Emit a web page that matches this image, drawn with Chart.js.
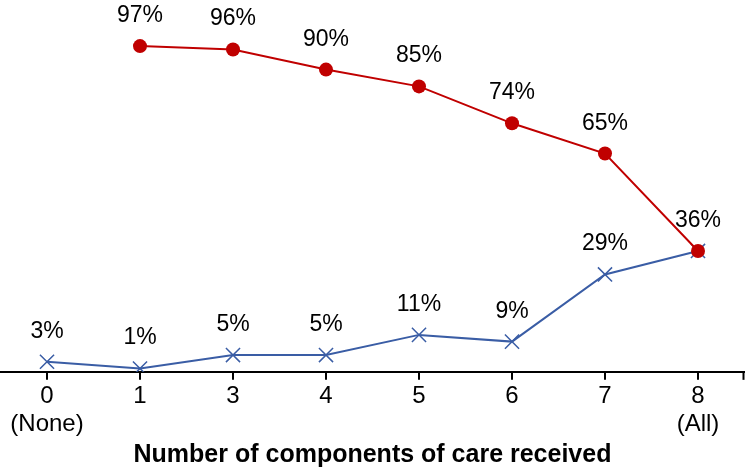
<!DOCTYPE html>
<html>
<head>
<meta charset="utf-8">
<script src="https://cdn.jsdelivr.net/npm/chart.js@4"></script>
<style>
  html, body { margin: 0; padding: 0; background: #fff; overflow: hidden; }
  #wrap { width: 767px; height: 475px; margin-left: -11px; }
</style>
</head>
<body>
<div id="wrap"><canvas id="lineChart"></canvas></div>
<script>
// Categories (number of components of care received)
var categories = [["0", "(None)"], "1", "3", "4", "5", "6", "7", ["8", "(All)"]];

// Percent values
var redValues = [null, 97, 96, 90, 85, 74, 65, 36];
var blueValues = [3, 1, 5, 5, 11, 9, 29, 36];

var axisTitle = "Number of components of care received";

// Value labels above points (blue last point shares the red "36%")
var valueLabels = {
    id: "valueLabels",
    afterDatasetsDraw(chart) {
        var ctx = chart.ctx;
        ctx.save();
        ctx.font = "23px 'Liberation Sans', Arial, sans-serif";
        ctx.fillStyle = "#000";
        ctx.textAlign = "center";
        ctx.textBaseline = "alphabetic";
        chart.data.datasets.forEach((ds, di) => {
            var meta = chart.getDatasetMeta(di);
            meta.data.forEach((pt, i) => {
                var v = ds.data[i];
                if (v === null) return;
                if (di === 1 && i === ds.data.length - 1) return;
                ctx.fillText(v + "%", pt.x, pt.y - 24);
            });
        });
        ctx.restore();
    }
};

// Closing tick at the right end of the axis
var endTick = {
    id: "endTick",
    afterDraw(chart) {
        var a = chart.chartArea, ctx = chart.ctx;
        ctx.save();
        ctx.strokeStyle = "#000";
        ctx.lineWidth = 2;
        ctx.beginPath();
        ctx.moveTo(a.right - 1, a.bottom);
        ctx.lineTo(a.right - 1, a.bottom + 8);
        ctx.stroke();
        ctx.restore();
    }
};

new Chart(document.getElementById("lineChart"), {
    type: "line",
    data: {
        labels: categories,
        datasets: [
            {
                label: "Red",
                data: redValues,
                borderColor: "#C00000",
                backgroundColor: "#C00000",
                borderWidth: 2,
                pointStyle: "circle",
                pointRadius: 7,
                pointBorderWidth: 0,
                tension: 0
            },
            {
                label: "Blue",
                data: blueValues,
                borderColor: "#3A5DA5",
                backgroundColor: "#3A5DA5",
                borderWidth: 2,
                pointStyle: "crossRot",
                pointRadius: 10,
                pointBorderWidth: 1.5,
                tension: 0
            }
        ]
    },
    options: {
        responsive: true,
        maintainAspectRatio: false,
        animation: false,
        layout: { padding: { top: 36, left: 0, right: 0, bottom: 5 } },
        scales: {
            x: {
                offset: true,
                grid: {
                    offset: false,
                    drawOnChartArea: false,
                    color: "#000",
                    lineWidth: 2,
                    tickLength: 8
                },
                border: { display: true, color: "#000", width: 2 },
                ticks: {
                    color: "#000",
                    padding: 2,
                    maxRotation: 0,
                    autoSkip: false,
                    font: { family: "'Liberation Sans', Arial, sans-serif", size: 24, lineHeight: 1.17 }
                },
                title: {
                    display: true,
                    text: axisTitle,
                    color: "#000",
                    padding: { top: 0, bottom: 0 },
                    font: { family: "'Liberation Sans', Arial, sans-serif", size: 25, weight: "bold", lineHeight: 1.2 }
                }
            },
            y: {
                display: false,
                min: 0,
                max: 100
            }
        },
        plugins: {
            legend: { display: false },
            tooltip: { enabled: false }
        }
    },
    plugins: [valueLabels, endTick]
});
</script>
</body>
</html>
